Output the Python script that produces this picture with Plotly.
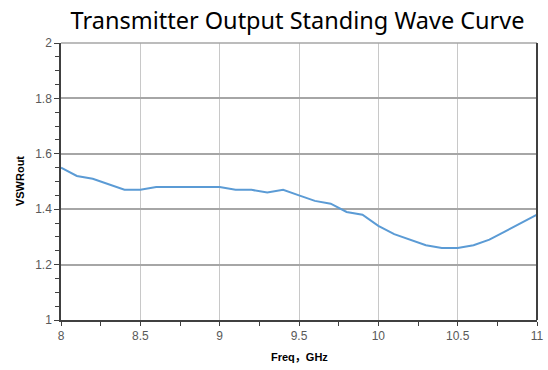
import plotly.graph_objects as go

freq = [8.0, 8.1, 8.2, 8.3, 8.4, 8.5, 8.6, 8.7, 8.8, 8.9, 9.0,
        9.1, 9.2, 9.3, 9.4, 9.5, 9.6, 9.7, 9.8, 9.9, 10.0,
        10.1, 10.2, 10.3, 10.4, 10.5, 10.6, 10.7, 10.8, 10.9, 11.0]
vswr = [1.55, 1.52, 1.51, 1.49, 1.47, 1.47, 1.48, 1.48, 1.48, 1.48, 1.48,
        1.47, 1.47, 1.46, 1.47, 1.45, 1.43, 1.42, 1.39, 1.38, 1.34,
        1.31, 1.29, 1.27, 1.26, 1.26, 1.27, 1.29, 1.32, 1.35, 1.38]
x_ticks = [8, 8.5, 9, 9.5, 10, 10.5, 11]
x_tick_labels = ["8", "8.5", "9", "9.5", "10", "10.5", "11"]
y_ticks = [1, 1.2, 1.4, 1.6, 1.8, 2]
y_tick_labels = ["1", "1.2", "1.4", "1.6", "1.8", "2"]

fig = go.Figure()
fig.add_trace(go.Scatter(x=freq, y=vswr, mode="lines",
                         line=dict(color="#5B9BD5", width=2), showlegend=False,
                         hoverinfo="skip"))

fig.update_layout(
    width=548, height=370,
    margin=dict(l=61, r=11, t=43, b=50, autoexpand=False),
    paper_bgcolor="white", plot_bgcolor="white",
    title=dict(text="Transmitter Output Standing Wave Curve",
               font=dict(family="Noto Sans", size=23.5, color="#000000"),
               x=0.543, xanchor="center", y=0.945, yanchor="middle"),
    font=dict(family="Liberation Sans", color="#595959"),
)
fig.update_xaxes(
    range=[8, 11], tickmode="array", tickvals=x_ticks, ticktext=x_tick_labels,
    showgrid=True, gridcolor="#c8c8c8", gridwidth=1,
    showline=True, linecolor="#404040", linewidth=1.5,
    ticks="outside", ticklen=4, tickcolor="#404040",
    minor=dict(dtick=0.25, tick0=8, ticks="outside", ticklen=4, tickcolor="#404040", showgrid=False),
    tickfont=dict(size=12, color="#595959"),
    automargin=False, zeroline=False,
)
fig.update_yaxes(
    range=[1, 2], tickmode="array", tickvals=y_ticks, ticktext=y_tick_labels,
    showgrid=True, gridcolor="#a6a6a6", gridwidth=1.5,
    showline=True, linecolor="#404040", linewidth=1.5,
    ticks="outside", ticklen=5, tickcolor="#404040",
    minor=dict(dtick=0.05, tick0=1, ticks="outside", ticklen=4, tickcolor="#404040", showgrid=False),
    tickfont=dict(size=12, color="#595959"),
    automargin=False, zeroline=False,
)
# axis titles
fig.add_annotation(text="<b>Freq，GHz</b>", xref="paper", yref="paper", x=0.5, y=-0.135,
                   xanchor="center", yanchor="middle", showarrow=False,
                   font=dict(family="Liberation Sans, Noto Sans CJK SC", size=11, color="#000000"))
fig.add_annotation(text="<b>VSWRout</b>", xref="paper", yref="paper", x=-0.087, y=0.5,
                   xanchor="center", yanchor="middle", showarrow=False, textangle=-90,
                   font=dict(family="Liberation Sans", size=11, color="#000000"))
# plot-area border: top (gray) and right (dark)
fig.add_shape(type="line", xref="paper", yref="paper", x0=0, x1=1, y0=1, y1=1,
              line=dict(color="#a6a6a6", width=1.5))
fig.add_shape(type="line", xref="paper", yref="paper", x0=1, x1=1, y0=0, y1=1,
              line=dict(color="#404040", width=2))

fig.write_html("out.html", config={"displayModeBar": False},
               post_script="document.body.style.margin='0';")
